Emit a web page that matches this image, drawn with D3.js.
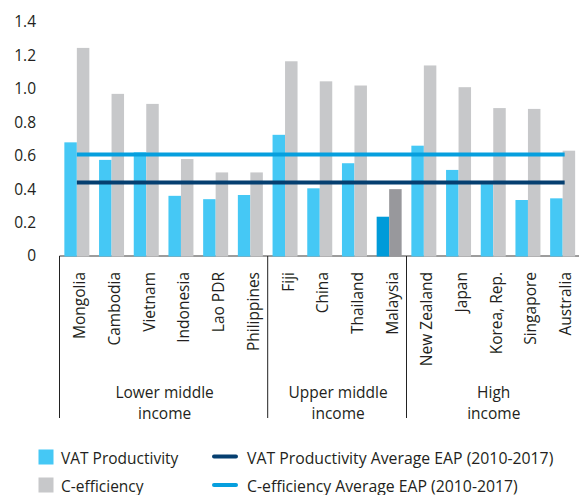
<!DOCTYPE html>
<html>
<head>
<meta charset="utf-8">
<script src="https://cdn.jsdelivr.net/npm/d3@7"></script>
<style>
  html, body { margin: 0; padding: 0; background: #fff; }
  svg { display: block; font-family: "Open Sans", sans-serif; }
</style>
</head>
<body>
<svg id="chart" width="579" height="495"></svg>
<script>
// Countries in plotting order, grouped by income level
const countries = ["Mongolia", "Cambodia", "Vietnam", "Indonesia", "Lao PDR", "Philippines",
  "Fiji", "China", "Thailand", "Malaysia",
  "New Zealand", "Japan", "Korea, Rep.", "Singapore", "Australia"];
const incomeGroups = ["Lower middle income", "Lower middle income", "Lower middle income",
  "Lower middle income", "Lower middle income", "Lower middle income",
  "Upper middle income", "Upper middle income", "Upper middle income", "Upper middle income",
  "High income", "High income", "High income", "High income", "High income"];
const groupLabels = [["Lower middle", "income"], ["Upper middle", "income"], ["High", "income"]];
const vatProductivity = [0.68, 0.575, 0.62, 0.36, 0.34, 0.365, 0.725, 0.405, 0.555, 0.235, 0.66, 0.515, 0.43, 0.335, 0.345];
const cEfficiency = [1.245, 0.97, 0.91, 0.58, 0.50, 0.50, 1.165, 1.045, 1.02, 0.40, 1.14, 1.01, 0.885, 0.88, 0.63];
const vatAverage = 0.44;
const cEffAverage = 0.607;
const highlighted = "Malaysia";
const yTicks = [0, 0.2, 0.4, 0.6, 0.8, 1.0, 1.2, 1.4];
const yTickLabels = ["0", "0.2", "0.4", "0.6", "0.8", "1.0", "1.2", "1.4"];
const seriesNames = ["VAT Productivity", "C-efficiency"];
const averageNames = ["VAT Productivity Average EAP (2010-2017)", "C-efficiency Average EAP (2010-2017)"];

const colors = {
  vat: "#45c8f5", ceff: "#c7c8ca",
  vatHi: "#009bd9", ceffHi: "#98989c",
  vatAvg: "#053f70", ceffAvg: "#069fde",
  text: "#231f20", axis: "#3a3a3a"
};

const svg = d3.select("#chart");
const fontSize = 15.5;

const x = d3.scaleBand().domain(countries).range([59.5, 580]).paddingInner(0.28).paddingOuter(0.14);
const xs = d3.scaleBand().domain(["vat", "ceff"]).range([0, x.bandwidth()]);
const y = d3.scaleLinear().domain([0, 1.4]).range([256, 22]);

const rows = countries.map((c, i) => ({ country: c, vat: vatProductivity[i], ceff: cEfficiency[i] }));

// y tick labels (no axis line)
const yAxis = d3.axisLeft(y).tickValues(yTicks).tickFormat((d, i) => yTickLabels[i]).tickSize(0).tickPadding(0);
const yg = svg.append("g").attr("transform", "translate(36,0)").call(yAxis);
yg.select(".domain").remove();
yg.selectAll("text").attr("font-size", fontSize).attr("font-family", "Open Sans").attr("fill", colors.text);

// baseline
svg.append("line")
  .attr("x1", x.range()[0]).attr("x2", 579)
  .attr("y1", y(0)).attr("y2", y(0))
  .attr("stroke", colors.axis).attr("stroke-width", 1);

// bars
const g = svg.append("g").selectAll("g").data(rows).join("g")
  .attr("transform", d => `translate(${x(d.country)},0)`);
g.append("rect")
  .attr("x", xs("vat")).attr("width", xs.bandwidth())
  .attr("y", d => y(d.vat)).attr("height", d => y(0) - y(d.vat) + 0.5)
  .attr("fill", d => d.country === highlighted ? colors.vatHi : colors.vat);
g.append("rect")
  .attr("x", xs("ceff")).attr("width", xs.bandwidth())
  .attr("y", d => y(d.ceff)).attr("height", d => y(0) - y(d.ceff) + 0.5)
  .attr("fill", d => d.country === highlighted ? colors.ceffHi : colors.ceff);

// average lines
const lineX1 = x(countries[0]) + x.bandwidth() / 2;
const lineX2 = x(countries[countries.length - 1]) + x.bandwidth() / 2 + 2;
[[cEffAverage, colors.ceffAvg], [vatAverage, colors.vatAvg]].forEach(([v, c]) => {
  svg.append("line")
    .attr("x1", lineX1).attr("x2", lineX2)
    .attr("y1", y(v)).attr("y2", y(v))
    .attr("stroke", c).attr("stroke-width", 4);
});

// category labels, rotated
svg.append("g").selectAll("text").data(countries).join("text")
  .attr("transform", d => `translate(${x(d) + x.bandwidth() / 2 + 2.5},272) rotate(-90)`)
  .attr("text-anchor", "end")
  .attr("dominant-baseline", "central")
  .attr("font-size", fontSize)
  .attr("fill", colors.text)
  .text(d => d);

// group separators and two-line group labels
const groups = Array.from(new Set(incomeGroups));
const half = x.step() * x.paddingInner() / 2;
const bounds = groups.map(gr => {
  const members = countries.filter((c, i) => incomeGroups[i] === gr);
  return [x(members[0]) - half, x(members[members.length - 1]) + x.bandwidth() + half];
});
bounds.forEach(([a, b], i) => {
  svg.append("line")
    .attr("x1", a).attr("x2", a).attr("y1", y(0)).attr("y2", 418)
    .attr("stroke", "#222").attr("stroke-width", 1);
  const cx = (a + Math.min(b, 579)) / 2 + 1;
  groupLabels[i].forEach((ln, k) => {
    svg.append("text")
      .attr("x", cx).attr("y", 398 + k * 21)
      .attr("text-anchor", "middle")
      .attr("font-size", fontSize)
      .attr("fill", colors.text)
      .text(ln);
  });
});

// legend
const leg = svg.append("g");
[colors.vat, colors.ceff].forEach((c, i) => {
  leg.append("rect").attr("x", 38.5).attr("y", 449.5 + i * 28).attr("width", 15).attr("height", 15).attr("fill", c);
  leg.append("text").attr("x", 61).attr("y", 463.5 + i * 28)
    .attr("font-size", fontSize).attr("fill", colors.text).text(seriesNames[i]);
});
[colors.vatAvg, colors.ceffAvg].forEach((c, i) => {
  leg.append("line").attr("x1", 214).attr("x2", 236).attr("y1", 456.5 + i * 28.5).attr("y2", 456.5 + i * 28.5)
    .attr("stroke", c).attr("stroke-width", 4).attr("stroke-linecap", "round");
  leg.append("text").attr("x", 247).attr("y", 463.5 + i * 28)
    .attr("font-size", 15.8).attr("fill", colors.text).text(averageNames[i]);
});
</script>
</body>
</html>
